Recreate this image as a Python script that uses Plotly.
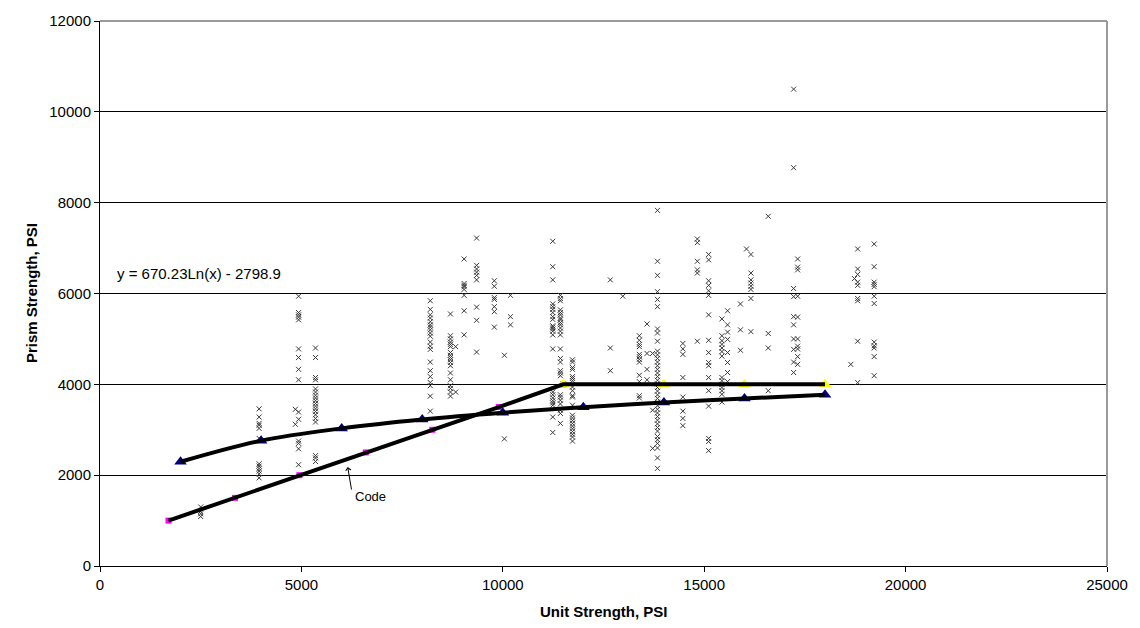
import plotly.graph_objects as go

# Individual prism tests, grouped by the unit strength of each test series
unit_cols = [2500, 3950, 4850, 4930, 5350, 8200, 8700, 8830, 9040, 9350, 9790,
             10040, 10190, 11240, 11430, 11730, 12670, 12980, 13390, 13580,
             13720, 13840, 14470, 14830, 15110, 15440, 15580, 15900, 16050,
             16160, 16590, 17220, 17320, 18640, 18730, 18810, 19220]
prism_cols = [
    [1300, 1200, 1150, 1090],
    [3460, 3280, 3140, 3100, 3030, 2810, 2250, 2200, 2145, 2090, 2030, 1940],
    [3450, 3120],
    [5940, 5580, 5530, 5480, 5420, 4780, 4590, 4330, 4100, 3390, 3230, 2750,
     2700, 2580, 2230],
    [4800, 4590, 4150, 4100, 3900, 3830, 3760, 3700, 3640, 3580, 3520, 3460,
     3400, 3330, 3250, 3170, 2430, 2380, 2300],
    [5840, 5650, 5530, 5460, 5380, 5310, 5260, 5200, 5130, 5060, 4930, 4840,
     4770, 4490, 4300, 4170, 4040, 3970, 3740, 3410],
    [5550, 5070, 5000, 4930, 4880, 4830, 4700, 4640, 4590, 4540, 4480, 4410,
     4250, 4100, 3970, 3910, 3830, 3740],
    [4830, 3830],
    [6760, 6220, 6180, 6150, 6090, 5960, 5620, 5090],
    [7220, 6620, 6540, 6470, 6400, 6300, 5700, 5410, 4710],
    [6280, 6160, 5910, 5870, 5710, 5600, 5260],
    [4640, 2800],
    [5960, 5490, 5310],
    [7150, 6590, 6300, 5770, 5710, 5650, 5580, 5490, 5430, 5290, 5260, 5220,
     5170, 5090, 4780, 3830, 3770, 3700, 3640, 3590, 3540, 3280, 2940],
    [5960, 5890, 5840, 5640, 5580, 5530, 5460, 5420, 5360, 5310, 5240, 5170,
     5090, 4780, 4570, 4490, 4300, 4250, 4190, 3770, 3720, 3650, 3570, 3430,
     3360, 3140],
    [4540, 4490, 4370, 4330, 4170, 4130, 4080, 3940, 3860, 3750, 3720, 3540,
     3320, 3260, 3200, 3140, 3080, 3020, 2960, 2900, 2840, 2750],
    [6300, 4800, 4300],
    [5940],
    [5070, 4970, 4880, 4830, 4660, 4610, 4550, 4490, 4200, 4060, 3750, 3700],
    [5330, 4680, 4330, 4100],
    [4680, 3430, 2590],
    [7830, 6710, 6400, 6040, 5870, 5710, 5220, 5130, 4950, 4730, 4650, 4570,
     4490, 4410, 4330, 4250, 4170, 4090, 4010, 3930, 3850, 3770, 3690, 3610,
     3530, 3450, 3370, 3290, 3210, 3130, 3050, 2970, 2850, 2780, 2700, 2600,
     2380, 2150],
    [4900, 4780, 4660, 4150, 3720, 3410, 3250, 3090],
    [7200, 7120, 6710, 6520, 6450, 4950],
    [6860, 6740, 6280, 6180, 6060, 5960, 5530, 4970, 4700, 4480, 4410, 4150,
     3860, 3520, 2810, 2740, 2540],
    [5440, 5070, 4960, 4880, 4800, 4720, 4620, 4150, 4080, 4000, 3930, 3860,
     3780, 3610],
    [5620, 5310, 5150, 4990, 4700, 4480, 4260, 4060],
    [5770, 5200, 4750],
    [6980],
    [6860, 6450, 6300, 6230, 6160, 6090, 5890, 5160],
    [7700, 5120, 4800, 3860],
    [10500, 8770, 6110, 5930, 5490, 5310, 5000, 4770, 4490, 4260],
    [6760, 6580, 6520, 5940, 5480, 5000, 4840, 4780, 4610, 4440],
    [4440],
    [6330],
    [6980, 6540, 6420, 6250, 6180, 5890, 5840, 4950, 4040],
    [7090, 6590, 6250, 6200, 6150, 5940, 5780, 4930, 4850, 4800, 4610, 4190],
]

# Logarithmic fit evaluated at even unit strengths
fit_unit = [2000, 4000, 6000, 8000, 10000, 12000, 14000, 16000, 18000]
fit_prism = [2295, 2760, 3030, 3225, 3375, 3497, 3600, 3690, 3768]

# Code (unit strength method) relationship
code_unit = [1700, 3350, 4950, 6600, 8250, 9900, 11500]
code_prism = [1000, 1500, 2000, 2500, 3000, 3500, 4000]
cap_unit = [11500, 14000, 16000, 18000]
cap_prism = [4000, 4000, 4000, 4000]

x_ticks = [0, 5000, 10000, 15000, 20000, 25000]
y_ticks = [0, 2000, 4000, 6000, 8000, 10000, 12000]

FONT = "Arial, Liberation Sans, sans-serif"

test_x, test_y = [], []
for u, col in zip(unit_cols, prism_cols):
    test_x += [u] * len(col)
    test_y += col

fig = go.Figure()

fig.add_trace(go.Scatter(
    x=test_x, y=test_y, mode="markers",
    marker=dict(symbol="x-thin", size=5, line=dict(width=1, color="#3a3a3a")),
    showlegend=False, hoverinfo="x+y"))

# Markers underneath the heavy lines
fig.add_trace(go.Scatter(
    x=code_unit, y=code_prism, mode="markers",
    marker=dict(symbol="square", size=6, color="#FF00FF"),
    showlegend=False))
fig.add_trace(go.Scatter(
    x=cap_unit, y=cap_prism, mode="markers",
    marker=dict(symbol="triangle-up", size=11, color="#FFFF00"),
    showlegend=False))
fig.add_trace(go.Scatter(
    x=fit_unit, y=fit_prism, mode="markers",
    marker=dict(symbol="triangle-up", size=11, color="#000080"),
    showlegend=False))

line_style = dict(color="black", width=4)
fig.add_trace(go.Scatter(
    x=code_unit + cap_unit[1:], y=code_prism + cap_prism[1:], mode="lines",
    line=line_style, showlegend=False, hoverinfo="skip"))
fig.add_trace(go.Scatter(
    x=fit_unit, y=fit_prism, mode="lines",
    line=dict(color="black", width=4, shape="spline", smoothing=1.0),
    showlegend=False, hoverinfo="skip"))

fig.update_xaxes(
    range=[0, 25000], tickvals=x_ticks, ticktext=[str(v) for v in x_ticks],
    showgrid=False, zeroline=False, showline=True, linecolor="black",
    linewidth=1, ticks="outside", ticklen=5, tickcolor="black",
    tickfont=dict(family=FONT, size=15, color="black"))
fig.update_yaxes(
    range=[0, 12000], tickvals=y_ticks, ticktext=[str(v) for v in y_ticks],
    showgrid=True, gridcolor="black", gridwidth=1, zeroline=False,
    showline=True, linecolor="black", linewidth=1, ticks="outside",
    ticklen=5, tickcolor="black",
    tickfont=dict(family=FONT, size=15, color="black"))

fig.update_layout(
    width=1140, height=628, autosize=False,
    margin=dict(l=100, r=32, t=15, b=62),
    paper_bgcolor="white", plot_bgcolor="white",
    shapes=[
        dict(type="line", xref="paper", yref="paper", x0=0, x1=1, y0=1, y1=1,
             line=dict(color="#9a9a9a", width=2), layer="above"),
        dict(type="line", xref="paper", yref="paper", x0=1, x1=1, y0=0, y1=1,
             line=dict(color="#9a9a9a", width=2), layer="above"),
    ],
    annotations=[
        dict(text="<b>Unit Strength, PSI</b>", xref="paper", yref="paper",
             x=0.5, y=-0.083, xanchor="center", yanchor="middle",
             showarrow=False, font=dict(family=FONT, size=15, color="black")),
        dict(text="<b>Prism Strength, PSI</b>", xref="paper", yref="paper",
             x=-0.068, y=0.5, xanchor="center", yanchor="middle",
             textangle=-90, showarrow=False,
             font=dict(family=FONT, size=15, color="black")),
        dict(text="y = 670.23Ln(x) - 2798.9", xref="x", yref="y",
             x=370, y=6440, xanchor="left", yanchor="middle",
             showarrow=False, font=dict(family=FONT, size=15, color="black")),
        dict(text="Code", xref="x", yref="y", x=6280, y=1540,
             xanchor="left", yanchor="middle", showarrow=False,
             font=dict(family=FONT, size=13, color="black")),
        dict(text="", xref="x", yref="y", x=6150, y=2180,
             ax=4, ay=24, showarrow=True, arrowhead=4, arrowsize=1,
             arrowwidth=1, arrowcolor="black"),
    ],
)

fig.write_html("out.html")
